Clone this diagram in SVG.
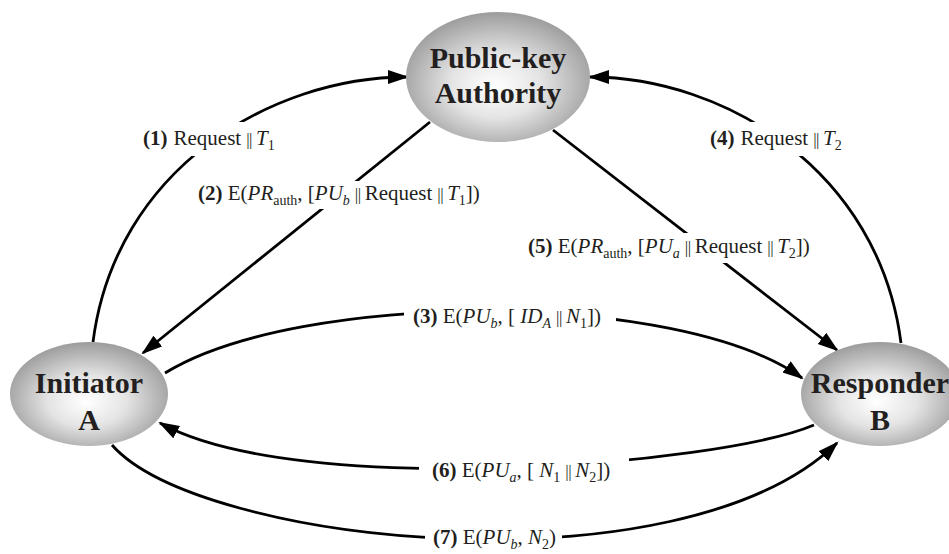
<svg xmlns="http://www.w3.org/2000/svg" width="949" height="554" viewBox="0 0 949 554">
<style>
.node-text{font-family:"Liberation Serif","Times New Roman",serif;font-weight:bold;font-size:30px;fill:#231f20;text-anchor:middle}
.conn{fill:none;stroke:#000;stroke-width:2.8}
.lbl{font-family:"Liberation Serif","Times New Roman",serif;font-size:21px;fill:#231f20}
.b{font-weight:bold}
.i{font-style:italic}
.sub{font-size:14px}
.bar{font-size:17px;letter-spacing:-0.5px}
.bg{fill:#fff}
</style>
<defs>
<radialGradient id="g" cx="50%" cy="55%" r="55%" fx="48%" fy="58%">
<stop offset="0" stop-color="#ffffff"/>
<stop offset="0.45" stop-color="#e4e4e4"/>
<stop offset="1" stop-color="#9c9c9c"/>
</radialGradient>
<marker id="ah" markerUnits="userSpaceOnUse" markerWidth="22" markerHeight="16" refX="19" refY="7" orient="auto">
<path d="M0,0 L21,7 L0,14 z" fill="#000"/>
</marker>
</defs>
<rect width="949" height="554" fill="#fff"/>
<g id="connectors">
<path class="conn" marker-end="url(#ah)" d="M93,342 C115,170 270,77 407,77"/>
<path class="conn" marker-end="url(#ah)" d="M430,122 L143,353"/>
<path class="conn" marker-end="url(#ah)" d="M165,373 C300,290 680,290 802,378"/>
<path class="conn" marker-end="url(#ah)" d="M901,343 C879,170 724,77 590,77"/>
<path class="conn" marker-end="url(#ah)" d="M553,130 L837,350"/>
<path class="conn" marker-end="url(#ah)" d="M814,425 C720,465 300,500 160,423"/>
<path class="conn" marker-end="url(#ah)" d="M112,445 C200,545 680,595 837,443"/>
</g>
<g id="labels">
<g id="label-1">
<rect class="bg" x="139" y="122" width="147" height="34"/>
<text class="lbl" x="143" y="145"><tspan class="b">(1)</tspan><tspan dx="6">Request</tspan><tspan class="bar" dx="5">||</tspan><tspan class="i" dx="4">T</tspan><tspan class="sub" dy="5">1</tspan></text>
</g>
<g id="label-2">
<rect class="bg" x="195" y="181" width="297" height="28"/>
<text class="lbl" x="198" y="200"><tspan class="b">(2)</tspan> E(<tspan class="i">PR</tspan><tspan class="sub" dy="5">auth</tspan><tspan dy="-5">, [</tspan><tspan class="i">PU</tspan><tspan class="sub i" dy="5">b</tspan><tspan class="bar" dx="5" dy="-5">||</tspan><tspan dx="4">Request</tspan><tspan class="bar" dx="5">||</tspan><tspan class="i" dx="4">T</tspan><tspan class="sub" dy="5">1</tspan><tspan dy="-5">])</tspan></text>
</g>
<g id="label-4">
<rect class="bg" x="706" y="122" width="147" height="34"/>
<text class="lbl" x="710" y="145"><tspan class="b">(4)</tspan><tspan dx="6">Request</tspan><tspan class="bar" dx="5">||</tspan><tspan class="i" dx="4">T</tspan><tspan class="sub" dy="5">2</tspan></text>
</g>
<g id="label-5">
<rect class="bg" x="525" y="233" width="296" height="30"/>
<text class="lbl" x="528" y="253"><tspan class="b">(5)</tspan> E(<tspan class="i">PR</tspan><tspan class="sub" dy="5">auth</tspan><tspan dy="-5">, [</tspan><tspan class="i">PU</tspan><tspan class="sub i" dy="5">a</tspan><tspan class="bar" dx="5" dy="-5">||</tspan><tspan dx="4">Request</tspan><tspan class="bar" dx="5">||</tspan><tspan class="i" dx="4">T</tspan><tspan class="sub" dy="5">2</tspan><tspan dy="-5">])</tspan></text>
</g>
<g id="label-3">
<rect class="bg" x="404" y="303" width="212" height="28"/>
<text class="lbl" x="413" y="323"><tspan class="b">(3)</tspan> E(<tspan class="i">PU</tspan><tspan class="sub i" dy="5">b</tspan><tspan dy="-5">, [ </tspan><tspan class="i">ID</tspan><tspan class="sub i" dy="5">A</tspan><tspan class="bar" dx="5" dy="-5">||</tspan><tspan class="i" dx="4">N</tspan><tspan class="sub" dy="5">1</tspan><tspan dy="-5">])</tspan></text>
</g>
<g id="label-6">
<rect class="bg" x="419" y="457" width="210" height="28"/>
<text class="lbl" x="432" y="477"><tspan class="b">(6)</tspan> E(<tspan class="i">PU</tspan><tspan class="sub i" dy="5">a</tspan><tspan dy="-5">, [ </tspan><tspan class="i">N</tspan><tspan class="sub" dy="5">1</tspan><tspan class="bar" dx="5" dy="-5">||</tspan><tspan class="i" dx="4">N</tspan><tspan class="sub" dy="5">2</tspan><tspan dy="-5">])</tspan></text>
</g>
<g id="label-7">
<rect class="bg" x="425" y="524" width="137" height="30"/>
<text class="lbl" x="433" y="544"><tspan class="b">(7)</tspan> E(<tspan class="i">PU</tspan><tspan class="sub i" dy="5">b</tspan><tspan dy="-5">, </tspan><tspan class="i">N</tspan><tspan class="sub" dy="5">2</tspan><tspan dy="-5">)</tspan></text>
</g>
</g>
<g id="node-authority">
<ellipse cx="498" cy="77" rx="92" ry="65" fill="url(#g)"/>
<text class="node-text" x="498" y="68">Public-key</text>
<text class="node-text" x="498" y="103">Authority</text>
</g>
<g id="node-initiator">
<ellipse cx="89" cy="394" rx="79" ry="52" fill="url(#g)"/>
<text class="node-text" x="89" y="393">Initiator</text>
<text class="node-text" x="89" y="430">A</text>
</g>
<g id="node-responder">
<ellipse cx="880" cy="394" rx="79" ry="52" fill="url(#g)"/>
<text class="node-text" x="880" y="393">Responder</text>
<text class="node-text" x="880" y="430">B</text>
</g>
</svg>
